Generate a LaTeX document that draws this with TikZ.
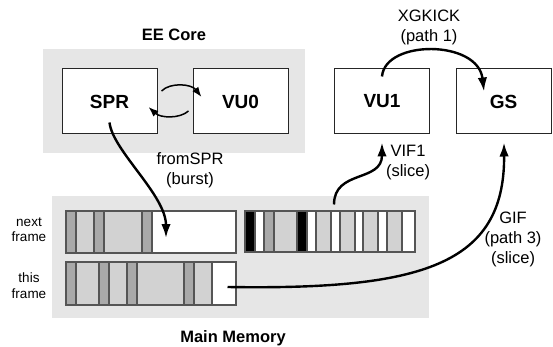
\documentclass[tikz,border=0pt]{standalone}
\usepackage{fontspec}
\setmainfont{Liberation Sans}
\usetikzlibrary{arrows.meta}

\definecolor{panelgray}{HTML}{E6E6E6}
\definecolor{seglight}{HTML}{D2D2D2}
\definecolor{segdark}{HTML}{A9A9A9}
\definecolor{segline}{HTML}{555555}

\tikzset{
  panel/.style={fill=panelgray, draw=none},
  unit/.style={draw=black!85, line width=1pt, fill=white, minimum width=95pt,
    minimum height=65pt, inner sep=0pt, font=\fontsize{19}{22}\selectfont\bfseries},
  title/.style={font=\fontsize{16.5}{20}\selectfont\bfseries},
  lbl/.style={align=center, inner sep=0pt, font=\fontsize{16.5}{20}\selectfont},
  sidelbl/.style={align=center, inner sep=0pt, font=\fontsize{13.5}{15.5}\selectfont},
  bar/.style={draw=segline, line width=1pt, inner sep=0pt},
  seg/.style={draw=segline, line width=1.1pt},
  flow/.style={line width=2.4pt, -{Latex[length=14pt,width=9.5pt]}},
  swap/.style={line width=1.5pt, -{Latex[length=10pt,width=7.5pt]}}
}

\begin{document}
\begin{tikzpicture}[x=1pt, y=-1pt]
\useasboundingbox (0,0) rectangle (553,347);

% grey background panels
\fill[panel] (43,49) rectangle (305,153);
\fill[panel] (52,196) rectangle (429,318);
\node[title] (eecore) at (174,35) {EE Core};
\node[title] (mainmem) at (233,338) {Main Memory};

% processing units
\node[unit] (spr) at (109.5,101.5) {SPR};
\node[unit] (vu0) at (240.5,101.5) {VU0};
\node[unit] (vu1) at (382,101.5) {VU1};
\node[unit] (gs)  at (503.5,101.5) {GS};

% memory buffers: segments first, outlines as named nodes on top
\foreach \a/\b/\c in {66/76/segdark, 76/94/seglight, 94/104/segdark,
    104/142/seglight, 142/152/segdark, 152/236/white}
  \filldraw[seg, fill=\c] (\a,211) rectangle (\b,253);
\node[bar, minimum width=170pt, minimum height=42pt] (nf) at (151,232) {};

\foreach \a/\b/\c in {66/76/segdark, 76/99/seglight, 99/109/segdark,
    109/127/seglight, 127/137/segdark, 137/184/seglight, 184/194/segdark,
    194/212/seglight, 212/236/white}
  \filldraw[seg, fill=\c] (\a,262) rectangle (\b,305);
\node[bar, minimum width=170pt, minimum height=43pt] (tf) at (151,283.5) {};

\foreach \a/\b/\c in {245/255/black, 255/264/white, 264/274/segdark,
    274/297/seglight, 297/307/black, 307/316/white, 316/331/seglight,
    331/340/white, 340/355/seglight, 355/363/white, 363/378/seglight,
    378/387/white, 387/402/seglight, 402/415/white}
  \filldraw[seg, fill=\c] (\a,211) rectangle (\b,252);
\node[bar, minimum width=170pt, minimum height=41pt] (rb) at (330,231.5) {};

% side labels
\node[sidelbl] (nextlbl) at (29,229.5) {next\\frame};
\node[sidelbl] (thislbl) at (29,285.5) {this\\frame};

% transfer labels
\node[lbl] (xgkick) at (429,27) {XGKICK\\(path 1)};
\node[lbl] (fromspr) at (190,170) {fromSPR\\(burst)};
\node[lbl] (vif) at (408,163) {VIF1\\(slice)};
\node[lbl] (gif) at (513,239) {GIF\\(path 3)\\(slice)};

% SPR <-> VU0 exchange
\draw[swap] ([xshift=4pt,yshift=10.5pt]spr.east)
  .. controls +(9,-9) and +(-10,-13) .. ([xshift=9pt,yshift=4.5pt]vu0.west);
\draw[swap] ([xshift=-4pt,yshift=-9.5pt]vu0.west)
  .. controls +(-9,8) and +(12,11) .. ([xshift=-9pt,yshift=-5.5pt]spr.east);

% data paths
\draw[flow] ([yshift=12pt]spr.south)
  .. controls +(3,28) and +(0,-43) .. ([xshift=15pt,yshift=-6pt]nf.center);
\draw[flow] ([xshift=4pt,yshift=6pt]rb.north)
  .. controls +(0,-35) and +(0,40) .. ([yshift=-8pt]vu1.south);
\draw[flow] ([xshift=-9pt,yshift=-3.5pt]tf.east)
  .. controls +(193,3) and +(1,123) .. ([xshift=0.5pt,yshift=-8pt]gs.south);
\draw[flow] ([yshift=-8pt]vu1.north)
  .. controls +(3,-37) and +(-6,-52) .. ([xshift=-19.5pt,yshift=-23pt]gs.north);
\end{tikzpicture}
\end{document}
